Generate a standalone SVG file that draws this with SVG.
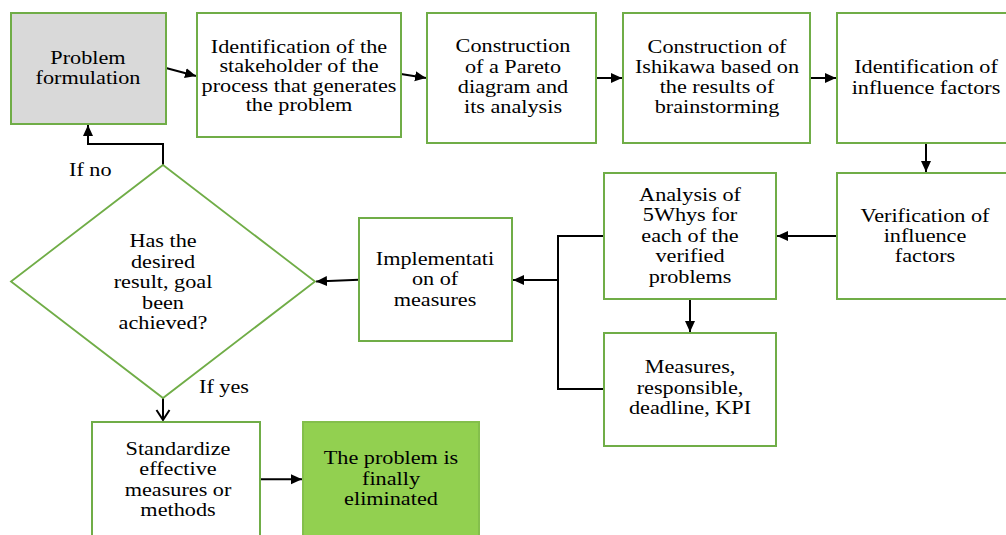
<svg xmlns="http://www.w3.org/2000/svg" width="1006" height="535" viewBox="0 0 1006 535">
  <style>
    .box { fill: #ffffff; stroke: #70ad47; stroke-width: 2; }
    .grey { fill: #d9d9d9; }
    .done { fill: #92d050; stroke: #84bf4c; }
    .dia { fill: #ffffff; stroke: #70ad47; stroke-width: 1.8; }
    .lbl { font-family: "Liberation Serif", "Times New Roman", serif; font-size: 19.5px; fill: #000000; text-anchor: middle; }
    .side { text-anchor: start; }
    .link { fill: none; stroke: #000000; stroke-width: 2; }
  </style>
  <defs>
    <marker id="head" markerUnits="userSpaceOnUse" markerWidth="12" markerHeight="12" viewBox="0 0 12 12" refX="11" refY="6" orient="auto">
      <path d="M0,1 L11,6 L0,11 z" fill="#000000"/>
    </marker>
    <marker id="open" markerUnits="userSpaceOnUse" markerWidth="16" markerHeight="16" viewBox="0 0 16 16" refX="11" refY="8" orient="auto">
      <path d="M1,1.5 L11,8 L1,14.5" fill="none" stroke="#000000" stroke-width="2"/>
    </marker>
  </defs>

  <!-- connectors -->
  <g id="connectors">
    <path class="link" d="M166,68 L196,76" marker-end="url(#head)"/>
    <path class="link" d="M401,74 L426,78" marker-end="url(#head)"/>
    <path class="link" d="M596,78 L622,78" marker-end="url(#head)"/>
    <path class="link" d="M810,78 L836,78" marker-end="url(#head)"/>
    <path class="link" d="M926,143 L926,172" marker-end="url(#head)"/>
    <path class="link" d="M837,236 L777,236" marker-end="url(#head)"/>
    <path class="link" d="M690,299 L690,332" marker-end="url(#head)"/>
    <path class="link" d="M604,236 H558 V389 H604"/>
    <path class="link" d="M558,280 L513,280" marker-end="url(#head)"/>
    <path class="link" d="M359,279.7 L316,281.5" marker-end="url(#head)"/>
    <path class="link" d="M163,165 V144 H88 V125" marker-end="url(#head)"/>
    <path class="link" d="M163,398 L163,420" marker-end="url(#open)"/>
    <path class="link" d="M260,479.3 L302,479.3" marker-end="url(#head)"/>
  </g>

  <g id="problem-formulation">
    <rect class="box grey" x="11" y="13" width="155" height="111"/>
    <text class="lbl" transform="matrix(1.14 0 0 1 88 0)"><tspan x="0" y="64">Problem</tspan><tspan x="0" y="84">formulation</tspan></text>
  </g>

  <g id="stakeholder">
    <rect class="box" x="197" y="13" width="204" height="124"/>
    <text class="lbl" transform="matrix(1.14 0 0 1 299 0)"><tspan x="0" y="52.7">Identification of the</tspan><tspan x="0" y="72.3">stakeholder of the</tspan><tspan x="0" y="91.9">process that generates</tspan><tspan x="0" y="111.5">the problem</tspan></text>
  </g>

  <g id="pareto">
    <rect class="box" x="427" y="13" width="169" height="130"/>
    <text class="lbl" transform="matrix(1.14 0 0 1 513 0)"><tspan x="0" y="52.5">Construction</tspan><tspan x="0" y="72.8">of a Pareto</tspan><tspan x="0" y="93.1">diagram and</tspan><tspan x="0" y="113.4">its analysis</tspan></text>
  </g>

  <g id="ishikawa">
    <rect class="box" x="623" y="13" width="187" height="130"/>
    <text class="lbl" transform="matrix(1.14 0 0 1 717 0)"><tspan x="0" y="53">Construction of</tspan><tspan x="0" y="73">Ishikawa based on</tspan><tspan x="0" y="93">the results of</tspan><tspan x="0" y="113">brainstorming</tspan></text>
  </g>

  <g id="influence-identification">
    <rect class="box" x="837" y="13" width="180" height="130"/>
    <text class="lbl" transform="matrix(1.14 0 0 1 926 0)"><tspan x="0" y="73.5">Identification of</tspan><tspan x="0" y="94">influence factors</tspan></text>
  </g>

  <g id="verification">
    <rect class="box" x="837" y="173" width="180" height="126"/>
    <text class="lbl" transform="matrix(1.14 0 0 1 925 0)"><tspan x="0" y="221.7">Verification of</tspan><tspan x="0" y="242.2">influence</tspan><tspan x="0" y="262">factors</tspan></text>
  </g>

  <g id="five-whys">
    <rect class="box" x="604" y="173" width="172" height="126"/>
    <text class="lbl" transform="matrix(1.14 0 0 1 690 0)"><tspan x="0" y="200.7">Analysis of</tspan><tspan x="0" y="221.3">5Whys for</tspan><tspan x="0" y="241.9">each of the</tspan><tspan x="0" y="262.5">verified</tspan><tspan x="0" y="283">problems</tspan></text>
  </g>

  <g id="measures">
    <rect class="box" x="604" y="333" width="172" height="113"/>
    <text class="lbl" transform="matrix(1.14 0 0 1 690 0)"><tspan x="0" y="373.3">Measures,</tspan><tspan x="0" y="394">responsible,</tspan><tspan x="0" y="414.5">deadline, KPI</tspan></text>
  </g>

  <g id="implementation">
    <rect class="box" x="359" y="218" width="153" height="123"/>
    <text class="lbl" transform="matrix(1.14 0 0 1 435 0)"><tspan x="0" y="265">Implementati</tspan><tspan x="0" y="285.5">on of</tspan><tspan x="0" y="306">measures</tspan></text>
  </g>

  <g id="goal-check">
    <polygon class="dia" points="163,165 315,281.5 163,398 11,281.5"/>
    <text class="lbl" transform="matrix(1.14 0 0 1 163 0)"><tspan x="0" y="247.3">Has the</tspan><tspan x="0" y="268">desired</tspan><tspan x="0" y="288.5">result, goal</tspan><tspan x="0" y="309">been</tspan><tspan x="0" y="329.5">achieved?</tspan></text>
    <text class="lbl side" transform="matrix(1.14 0 0 1 69 0)" x="0" y="176">If no</text>
    <text class="lbl side" transform="matrix(1.14 0 0 1 199 0)" x="0" y="393">If yes</text>
  </g>

  <g id="standardize">
    <rect class="box" x="92" y="422" width="168" height="130"/>
    <text class="lbl" transform="matrix(1.14 0 0 1 178 0)"><tspan x="0" y="455">Standardize</tspan><tspan x="0" y="475.5">effective</tspan><tspan x="0" y="496">measures or</tspan><tspan x="0" y="516.5">methods</tspan></text>
  </g>

  <g id="eliminated">
    <rect class="box done" x="303" y="422" width="176" height="130"/>
    <text class="lbl" transform="matrix(1.14 0 0 1 391 0)"><tspan x="0" y="464.3">The problem is</tspan><tspan x="0" y="485">finally</tspan><tspan x="0" y="505.5">eliminated</tspan></text>
  </g>
</svg>
